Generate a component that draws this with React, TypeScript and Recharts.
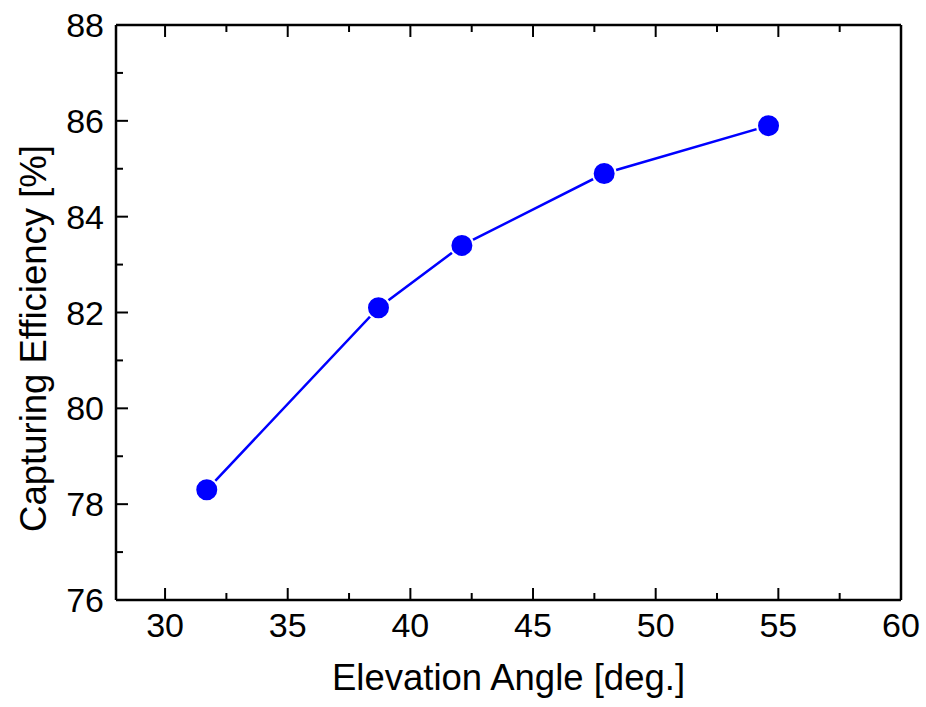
import React from 'react';
import { LineChart, Line, XAxis, YAxis, Label } from 'recharts';

// Measured series: capturing efficiency versus elevation angle
const elevationAngle = [31.7, 38.7, 42.1, 47.9, 54.6];
const capturingEfficiency = [78.3, 82.1, 83.4, 84.9, 85.9];

// Axis ticks (major ones carry labels, the rest are minor marks)
const xTicks = [30, 32.5, 35, 37.5, 40, 42.5, 45, 47.5, 50, 52.5, 55, 57.5, 60];
const xMajorTicks = [30, 35, 40, 45, 50, 55, 60];
const yTicks = [76, 77, 78, 79, 80, 81, 82, 83, 84, 85, 86, 87, 88];
const yMajorTicks = [76, 78, 80, 82, 84, 86, 88];

const xDomain: [number, number] = [28, 60];
const yDomain: [number, number] = [76, 88];

const data = elevationAngle.map((angle, i) => ({
  angle,
  efficiency: capturingEfficiency[i],
}));

const FONT = '"Liberation Sans", Arial, Helvetica, sans-serif';
const TICK_FONT_SIZE = 34;
const TITLE_FONT_SIZE = 36.5;
const MAJOR_LEN = 12;
const MINOR_LEN = 7;
const TICK_WIDTH = 2;

const BLUE = '#0000ff';

type TickProps = { x?: number; y?: number; payload?: { value: number } };

const BottomTick = ({ x = 0, y = 0, payload }: TickProps) => {
  const v = payload ? payload.value : 0;
  const major = xMajorTicks.includes(v);
  return (
    <g>
      <line x1={x} y1={y} x2={x} y2={y - (major ? MAJOR_LEN : MINOR_LEN)} stroke="#000" strokeWidth={TICK_WIDTH} />
      {major && (
        <text x={x} y={y + 37} textAnchor="middle" fontSize={TICK_FONT_SIZE} fontFamily={FONT} fill="#000">
          {v}
        </text>
      )}
    </g>
  );
};

const TopTick = ({ x = 0, y = 0, payload }: TickProps) => {
  const v = payload ? payload.value : 0;
  const major = xMajorTicks.includes(v);
  return (
    <line x1={x} y1={y} x2={x} y2={y + (major ? MAJOR_LEN : MINOR_LEN)} stroke="#000" strokeWidth={TICK_WIDTH} />
  );
};

const LeftTick = ({ x = 0, y = 0, payload }: TickProps) => {
  const v = payload ? payload.value : 0;
  const major = yMajorTicks.includes(v);
  return (
    <g>
      <line x1={x} y1={y} x2={x + (major ? MAJOR_LEN : MINOR_LEN)} y2={y} stroke="#000" strokeWidth={TICK_WIDTH} />
      {major && (
        <text x={x - 12} y={y + 12} textAnchor="end" fontSize={TICK_FONT_SIZE} fontFamily={FONT} fill="#000">
          {v}
        </text>
      )}
    </g>
  );
};

const RightTick = ({ x = 0, y = 0, payload }: TickProps) => {
  const v = payload ? payload.value : 0;
  const major = yMajorTicks.includes(v);
  return (
    <line x1={x} y1={y} x2={x - (major ? MAJOR_LEN : MINOR_LEN)} y2={y} stroke="#000" strokeWidth={TICK_WIDTH} />
  );
};

const YTitle = (props: any) => {
  const vb = props.viewBox || { x: 0, y: 0, width: 0, height: 0 };
  const cx = vb.x + 33;
  const cy = vb.y + vb.height / 2 + 26;
  return (
    <text
      x={cx}
      y={cy}
      transform={`rotate(-90, ${cx}, ${cy})`}
      textAnchor="middle"
      dominantBaseline="central"
      fontSize={TITLE_FONT_SIZE}
      fontFamily={FONT}
      fill="#000"
    >
      Capturing Efficiency [%]
    </text>
  );
};

const axisLine = { stroke: '#000', strokeWidth: 2.5 };

export default function App() {
  return (
    <div style={{ position: 'absolute', left: 0, top: 0, width: 926, height: 707, background: '#fff' }}>
      <LineChart width={926} height={707} data={data} margin={{ top: 0, right: 0, bottom: 0, left: 0 }}>
        <XAxis
          xAxisId="bottom"
          dataKey="angle"
          type="number"
          orientation="bottom"
          domain={xDomain}
          ticks={xTicks}
          interval={0}
          height={107}
          axisLine={axisLine}
          tickLine={false}
          tickSize={0}
          tickMargin={0}
          tick={<BottomTick />}
        >
          <Label
            value="Elevation Angle [deg.]"
            position="insideBottom"
            offset={17}
            fontSize={TITLE_FONT_SIZE}
            fontFamily={FONT}
            fill="#000"
          />
        </XAxis>
        <XAxis
          xAxisId="top"
          dataKey="angle"
          type="number"
          orientation="top"
          domain={xDomain}
          ticks={xTicks}
          interval={0}
          height={25}
          axisLine={axisLine}
          tickLine={false}
          tickSize={0}
          tickMargin={0}
          tick={<TopTick />}
        />
        <YAxis
          yAxisId="left"
          type="number"
          orientation="left"
          domain={yDomain}
          ticks={yTicks}
          interval={0}
          width={116}
          axisLine={axisLine}
          tickLine={false}
          tickSize={0}
          tickMargin={0}
          tick={<LeftTick />}
        >
          <Label content={<YTitle />} />
        </YAxis>
        <YAxis
          yAxisId="right"
          type="number"
          orientation="right"
          domain={yDomain}
          ticks={yTicks}
          interval={0}
          width={25}
          axisLine={axisLine}
          tickLine={false}
          tickSize={0}
          tickMargin={0}
          tick={<RightTick />}
        />
        <Line
          xAxisId="bottom"
          yAxisId="left"
          dataKey="efficiency"
          type="linear"
          stroke={BLUE}
          strokeWidth={2.5}
          dot={{ r: 11.5, fill: BLUE, stroke: '#fff', strokeWidth: 2 }}
          activeDot={false}
          isAnimationActive={false}
        />
      </LineChart>
    </div>
  );
}
